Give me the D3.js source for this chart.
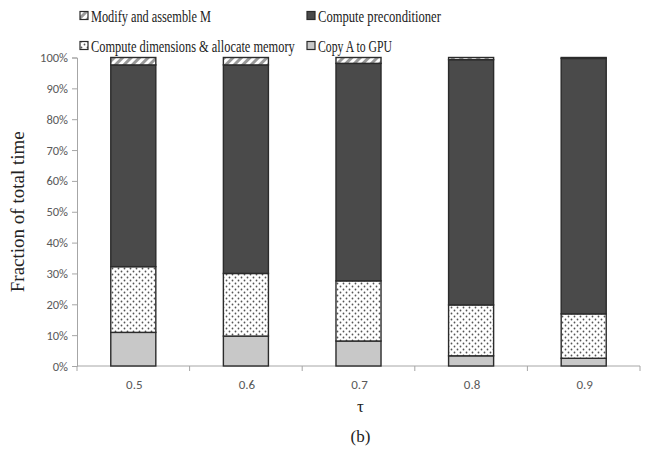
<!DOCTYPE html>
<html>
<head>
<meta charset="utf-8">
<script src="https://cdn.jsdelivr.net/npm/d3@7"></script>
<style>
  html, body { margin: 0; padding: 0; background: #fff; }
  svg { display: block; }
</style>
</head>
<body>
<svg id="chart" width="647" height="453"></svg>
<script>
// Tau values along the x axis
const categories = ["0.5", "0.6", "0.7", "0.8", "0.9"];

// Share of total time (%) for each phase, stacked from bottom to top
const copyA       = [10.9, 9.7, 8.1, 3.3, 2.5];
const computeDims = [21.3, 20.3, 19.5, 16.5, 14.4];
const precond     = [65.4, 67.6, 70.5, 79.5, 82.8];
const modifyM     = [2.4, 2.4, 1.9, 0.7, 0.3];

const yTicks = [0, 10, 20, 30, 40, 50, 60, 70, 80, 90, 100];

const seriesNames = ["Copy A to GPU", "Compute dimensions & allocate memory",
                     "Compute preconditioner", "Modify and assemble M"];
const seriesValues = [copyA, computeDims, precond, modifyM];

const svg = d3.select("#chart");
const defs = svg.append("defs");

// Dotted fill
const dots = defs.append("pattern").attr("id", "dots")
  .attr("patternUnits", "userSpaceOnUse").attr("width", 6).attr("height", 6);
dots.append("rect").attr("width", 6).attr("height", 6).attr("fill", "#fff");
dots.append("circle").attr("cx", 1.5).attr("cy", 1.5).attr("r", 0.9).attr("fill", "#555");
dots.append("circle").attr("cx", 4.5).attr("cy", 4.5).attr("r", 0.9).attr("fill", "#555");

// Diagonal hatch
const hatch = defs.append("pattern").attr("id", "hatch")
  .attr("patternUnits", "userSpaceOnUse").attr("width", 6).attr("height", 6)
  .attr("patternTransform", "rotate(45)");
hatch.append("rect").attr("width", 6).attr("height", 6).attr("fill", "#fff");
hatch.append("rect").attr("width", 3).attr("height", 6).attr("fill", "#9a9a9a");

const fills = ["#c8c8c8", "url(#dots)", "#4a4a4a", "url(#hatch)"];

const margin = { left: 77, right: 7, top: 57.5, bottom: 87 };
const W = 647, H = 453;

const x = d3.scaleBand().domain(categories)
  .range([margin.left, W - margin.right]).paddingInner(0.6).paddingOuter(0.3);
const xOuter = d3.scaleBand().domain(categories)
  .range([margin.left, W - margin.right]);
const y = d3.scaleLinear().domain([0, 100]).range([H - margin.bottom, margin.top]);

// Stack the series
const rows = categories.map((c, i) => {
  const r = { cat: c };
  seriesNames.forEach((n, k) => r[n] = seriesValues[k][i]);
  return r;
});
const stacked = d3.stack().keys(seriesNames)(rows);

const sans = "Carlito, 'Open Sans', 'DejaVu Sans', sans-serif";
const serif = "'Liberation Serif', 'DejaVu Serif', serif";

// Axes
const gy = svg.append("g").attr("transform", `translate(${margin.left},0)`)
  .call(d3.axisLeft(y).tickValues(yTicks).tickFormat(d => d + "%").tickSizeOuter(0).tickSize(5));
gy.select(".domain").attr("stroke", "#a6a6a6");
gy.selectAll(".tick line").attr("stroke", "#a6a6a6");
gy.selectAll(".tick text").attr("font-family", sans)
  .attr("font-size", 12.5).attr("fill", "#595959").attr("x", -9);

const gx = svg.append("g").attr("transform", `translate(0,${y(0)})`);
gx.append("line").attr("x1", margin.left).attr("x2", W - margin.right)
  .attr("stroke", "#a6a6a6");
const bounds = categories.map(c => xOuter(c)).concat([xOuter(categories[categories.length - 1]) + xOuter.bandwidth()]);
gx.selectAll(".xt").data(bounds).join("line")
  .attr("x1", d => d).attr("x2", d => d).attr("y1", 0).attr("y2", 5)
  .attr("stroke", "#a6a6a6");
gx.selectAll(".xl").data(categories).join("text")
  .attr("x", d => xOuter(d) + xOuter.bandwidth() / 2 + 1).attr("y", 23)
  .attr("text-anchor", "middle")
  .attr("font-family", sans)
  .attr("font-size", 13).attr("fill", "#595959").text(d => d);

// Bars
svg.append("g").selectAll("g").data(stacked).join("g")
  .attr("fill", (d, i) => fills[i])
  .selectAll("rect").data(d => d).join("rect")
  .attr("x", d => x(d.data.cat))
  .attr("width", x.bandwidth())
  .attr("y", d => y(d[1]))
  .attr("height", d => y(d[0]) - y(d[1]))
  .attr("stroke", "#2b2b2b").attr("stroke-width", 1.4);

// Axis titles
svg.append("text").attr("transform", `translate(24,${(y(0) + y(100)) / 2}) rotate(-90)`)
  .attr("text-anchor", "middle").attr("font-family", serif).attr("font-size", 19)
  .attr("fill", "#222").text("Fraction of total time");
svg.append("text").attr("x", (margin.left + W - margin.right) / 2 + 2).attr("y", 412)
  .attr("text-anchor", "middle").attr("font-family", serif).attr("font-size", 17)
  .attr("fill", "#222").text("τ");
svg.append("text").attr("x", (margin.left + W - margin.right) / 2 + 2).attr("y", 442)
  .attr("text-anchor", "middle").attr("font-family", serif).attr("font-size", 17)
  .attr("fill", "#222").text("(b)");

// Legend, two columns; labels are condensed horizontally to fit their column
const legendItems = [
  { name: seriesNames[3], fill: fills[3], x: 80, y: 16, w: 120 },
  { name: seriesNames[2], fill: fills[2], x: 307, y: 16, w: 123 },
  { name: seriesNames[1], fill: fills[1], x: 80, y: 46, w: 204 },
  { name: seriesNames[0], fill: fills[0], x: 307, y: 46, w: 74 }
];
const lg = svg.append("g").selectAll("g").data(legendItems).join("g")
  .attr("transform", d => `translate(${d.x},${d.y})`);
lg.append("rect").attr("x", 0).attr("y", -4.5).attr("width", 8).attr("height", 8)
  .attr("fill", d => d.fill).attr("stroke", "#2b2b2b").attr("stroke-width", 1.2);
lg.append("text").attr("y", 5.5)
  .attr("font-family", serif).attr("font-size", 16).attr("fill", "#222")
  .text(d => d.name)
  .each(function (d) {
    const len = this.getComputedTextLength();
    const s = Math.min(1, d.w / len);
    d3.select(this).attr("transform", `translate(11,0) scale(${s},1)`);
  });
</script>
</body>
</html>
